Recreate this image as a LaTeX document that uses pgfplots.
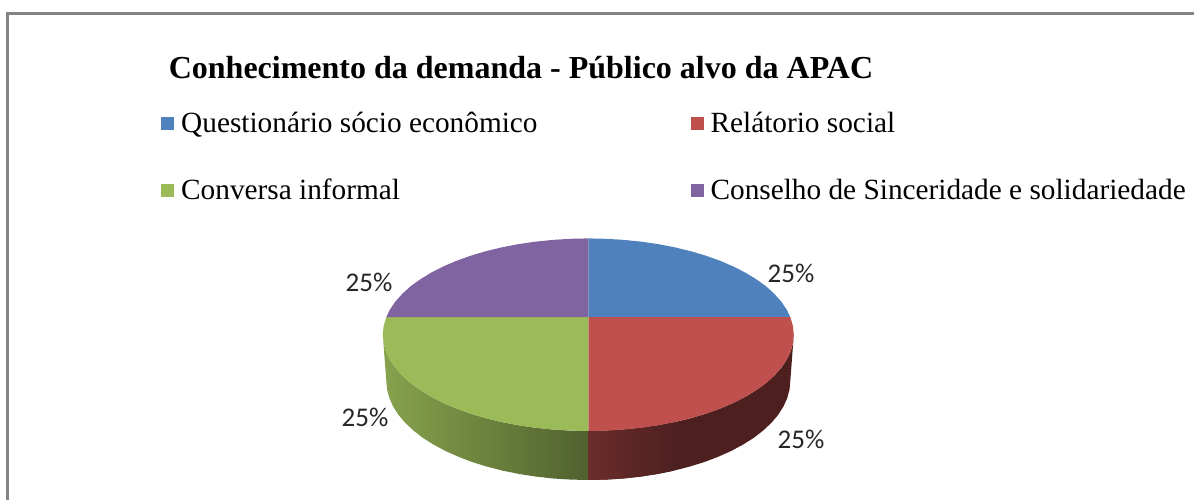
\documentclass[border=0pt]{standalone}
\usepackage{pgfplots}
\pgfplotsset{compat=1.18}
\usepackage{fontspec}
\setmainfont{Liberation Serif}
\newfontfamily\labelfont{Carlito}
\definecolor{cblue}{HTML}{4F81BD}
\definecolor{cred}{HTML}{C0504D}
\definecolor{cgreen}{HTML}{9BBB59}
\definecolor{cpurple}{HTML}{8064A2}
\begin{document}
\begin{tikzpicture}
\useasboundingbox (0,0) rectangle (1194pt,500pt);
\begin{axis}[
  at={(0,0)}, anchor=south west,
  width=1194pt, height=500pt, scale only axis,
  xmin=0, xmax=1194, ymin=0, ymax=500, y dir=reverse,
  hide axis,
  title={\fontsize{32}{36}\selectfont\bfseries Conhecimento da demanda - Público alvo da APAC},
  title style={at={(521/1194,1-74/500)}, anchor=center, inner sep=0pt},
  legend columns=2,
  legend cell align=left,
  legend style={draw=none, fill=none, at={(axis cs:158,108)}, anchor=north west,
    font=\fontsize{29.3}{33}\selectfont, row sep=41pt,
    /tikz/every even column/.append style={column sep=151pt}},
  legend image code/.code={\fill[#1] (0pt,-6.5pt) rectangle (13pt,6.5pt); \path (18pt,0pt);},
]
% side faces
\addplot[forget plot, draw=none, left color=cgreen!87!black, middle color=cgreen!74!black, right color=cgreen!52!black] coordinates {
(382.8,334.7)(383.6,343.1)(385.9,351.4)(389.8,359.6)(395.2,367.6)(402.1,375.4)(410.3,382.9)(420,389.9)(430.9,396.6)(443,402.8)(456.2,408.5)(470.4,413.6)(485.5,418.1)(501.5,422)(518,425.2)(535.1,427.7)(552.6,429.5)(570.4,430.6)(588.3,431)
(588.3,480)(570.7,479.6)(553.2,478.5)(536,476.6)(519.2,474)(502.9,470.7)(487.3,466.7)(472.4,462.1)(458.5,456.8)(445.5,451)(433.6,444.6)(422.8,437.8)(413.4,430.5)(405.2,422.8)(398.5,414.9)(393.2,406.6)(389.4,398.2)(387.1,389.6)(386.3,381)
} --cycle;
\addplot[forget plot, draw=none, fill=cred!40!black] coordinates {
(793.8,334.7)(793,343.1)(790.7,351.4)(786.8,359.6)(781.4,367.6)(774.5,375.4)(766.3,382.9)(756.6,389.9)(745.7,396.6)(733.6,402.8)(720.4,408.5)(706.2,413.6)(691.1,418.1)(675.1,422)(658.6,425.2)(641.5,427.7)(624,429.5)(606.2,430.6)(588.3,431)
(588.3,480)(605.9,479.6)(623.4,478.5)(640.6,476.6)(657.4,474)(673.7,470.7)(689.3,466.7)(704.2,462.1)(718.1,456.8)(731.1,451)(743,444.6)(753.8,437.8)(763.2,430.5)(771.4,422.8)(778.1,414.9)(783.4,406.6)(787.2,398.2)(789.5,389.6)(790.3,381)
} --cycle;
\addplot[forget plot, draw=none, left color=cred!56!black, right color=cred!40!black] coordinates {
(675.1,422)(658.6,425.2)(641.5,427.7)(624,429.5)(606.2,430.6)(588.3,431)
(588.3,480)(605.9,479.6)(623.4,478.5)(640.6,476.6)(657.4,474)(673.7,470.7)
} --cycle;
% top faces
\addplot[draw=none, fill=cblue] coordinates {
(588.3,317)(790.3,317)(786.8,309.8)(781.4,301.8)(774.5,294)(766.3,286.5)(756.6,279.5)(745.7,272.8)(733.6,266.6)(720.4,260.9)(706.2,255.8)(691.1,251.3)(675.1,247.4)(658.6,244.2)(641.5,241.7)(624,239.9)(606.2,238.8)(588.3,238.4)
} --cycle;
\addlegendentry{Questionário sócio econômico}
\addplot[draw=none, fill=cred] coordinates {
(588.3,317)(790.3,317)(793,326.3)(793.8,334.7)(793,343.1)(790.7,351.4)(786.8,359.6)(781.4,367.6)(774.5,375.4)(766.3,382.9)(756.6,389.9)(745.7,396.6)(733.6,402.8)(720.4,408.5)(706.2,413.6)(691.1,418.1)(675.1,422)(658.6,425.2)(641.5,427.7)(624,429.5)(606.2,430.6)(588.3,431)
} --cycle;
\addlegendentry{Relátorio social}
\addplot[draw=none, fill=cgreen] coordinates {
(588.3,317)(386.3,317)(383.6,326.3)(382.8,334.7)(383.6,343.1)(385.9,351.4)(389.8,359.6)(395.2,367.6)(402.1,375.4)(410.3,382.9)(420,389.9)(430.9,396.6)(443,402.8)(456.2,408.5)(470.4,413.6)(485.5,418.1)(501.5,422)(518,425.2)(535.1,427.7)(552.6,429.5)(570.4,430.6)(588.3,431)
} --cycle;
\addlegendentry{Conversa informal}
\addplot[draw=none, fill=cpurple] coordinates {
(588.3,317)(386.3,317)(389.8,309.8)(395.2,301.8)(402.1,294)(410.3,286.5)(420,279.5)(430.9,272.8)(443,266.6)(456.2,260.9)(470.4,255.8)(485.5,251.3)(501.5,247.4)(518,244.2)(535.1,241.7)(552.6,239.9)(570.4,238.8)(588.3,238.4)
} --cycle;
\addlegendentry{Conselho de Sinceridade e solidariedade}
% outer frame
\addplot[forget plot, color=black!48, line width=2.5pt] coordinates {(7.5,500)(7.5,13.5)(1194,13.5)};
% data labels
\node[font=\labelfont\fontsize{27}{30}\selectfont, text=black!85] at (axis cs:791,273) {25\%};
\node[font=\labelfont\fontsize{27}{30}\selectfont, text=black!85] at (axis cs:801,439) {25\%};
\node[font=\labelfont\fontsize{27}{30}\selectfont, text=black!85] at (axis cs:365,417) {25\%};
\node[font=\labelfont\fontsize{27}{30}\selectfont, text=black!85] at (axis cs:369,282) {25\%};
\end{axis}
\end{tikzpicture}
\end{document}
